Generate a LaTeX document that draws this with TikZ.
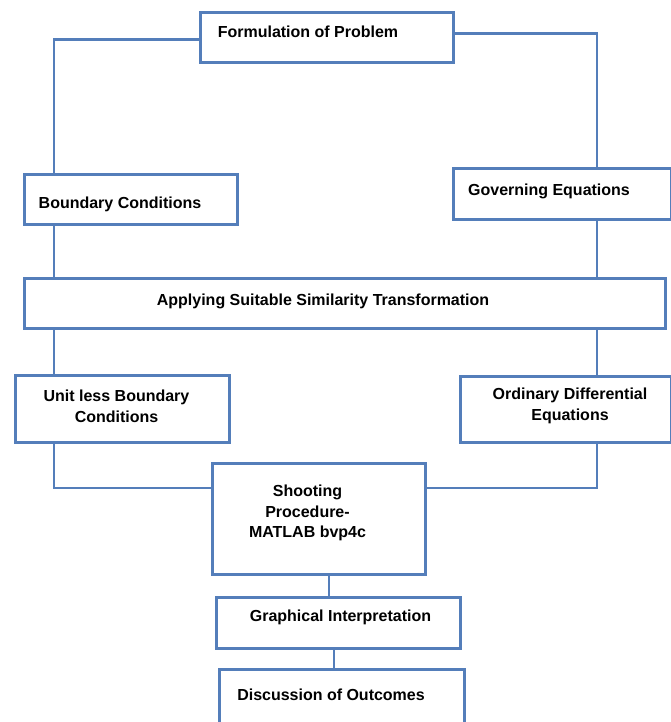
\documentclass[tikz,border=0pt]{standalone}
\usepackage{fontspec}
\setmainfont{Liberation Sans}
\usetikzlibrary{positioning}

\definecolor{edgeblue}{RGB}{84,126,186}

\begin{document}
\begin{tikzpicture}[
    x=0.02cm, y=-0.02cm,
    box/.style 2 args = {rectangle, draw=edgeblue, line width=1.5pt,
minimum width=#1*0.02cm, minimum height=#2*0.02cm,
inner sep=0pt, anchor=north west, fill=white},
    txt/.style = {font=\bfseries\fontsize{9.1}{11.8}\selectfont,
align=center, inner sep=0pt},
    link/.style = {draw=edgeblue, line width=1.5pt}
]
  \useasboundingbox (0,0) rectangle (671,722);
  \clip (0,0) rectangle (671,722);

  % rails for the connectors
  \coordinate (railL) at (54,0);
  \coordinate (railR) at (597,0);
  \coordinate (feed) at (0,488);
  \coordinate (spineA) at (329,0);
  \coordinate (spineB) at (334,0);

  \node (form)  [box={253}{50}]  at (199,11)  {};
  \node (bc)    [box={213}{50}]  at (23,173)  {};
  \node (gov)   [box={218}{51}]  at (452,167) {};
  \node (sim)   [box={641}{50}]  at (23,277)  {};
  \node (unit)  [box={214}{67}]  at (14,374)  {};
  \node (ode)   [box={211}{66}]  at (459,375) {};
  \node (shoot) [box={213}{111}] at (211,462) {};
  \node (graph) [box={244}{51}]  at (215,596) {};
  \node (disc)  [box={245}{70}]  at (218,668) {};

  \node (form-t)  [txt] at (308,32)    {Formulation of Problem};
  \node (bc-t)    [txt] at (120,204)   {Boundary Conditions};
  \node (gov-t)   [txt] at (549,191)   {Governing Equations};
  \node (sim-t)   [txt] at (323,301)   {Applying Suitable Similarity Transformation};
  \node (unit-t)  [txt] at (116.5,406) {Unit less Boundary\\Conditions};
  \node (ode-t)   [txt] at (570,406)   {Ordinary Differential\\Equations};
  \node (shoot-t) [txt] at (307.5,513) {Shooting\\Procedure-\\MATLAB bvp4c};
  \node (graph-t) [txt] at (340.5,617) {Graphical Interpretation};
  \node (disc-t)  [txt] at (331,695)   {Discussion of Outcomes};

  \draw[link] ([yshift=-0.04cm]form.west) -| (railL |- bc.north);
  \draw[link] ([yshift=0.08cm]form.east) -| (railR |- gov.north);
  \draw[link] (railL |- bc.south) -- (railL |- sim.north);
  \draw[link] (railR |- gov.south) -- (railR |- sim.north);
  \draw[link] (railL |- sim.south) -- (railL |- unit.north);
  \draw[link] (railR |- sim.south) -- (railR |- ode.north);
  \draw[link] (railL |- unit.south) |- (shoot.west |- feed);
  \draw[link] (railR |- ode.south) |- (shoot.east |- feed);
  \draw[link] (spineA |- shoot.south) -- (spineA |- graph.north);
  \draw[link] (spineB |- graph.south) -- (spineB |- disc.north);

\end{tikzpicture}
\end{document}
